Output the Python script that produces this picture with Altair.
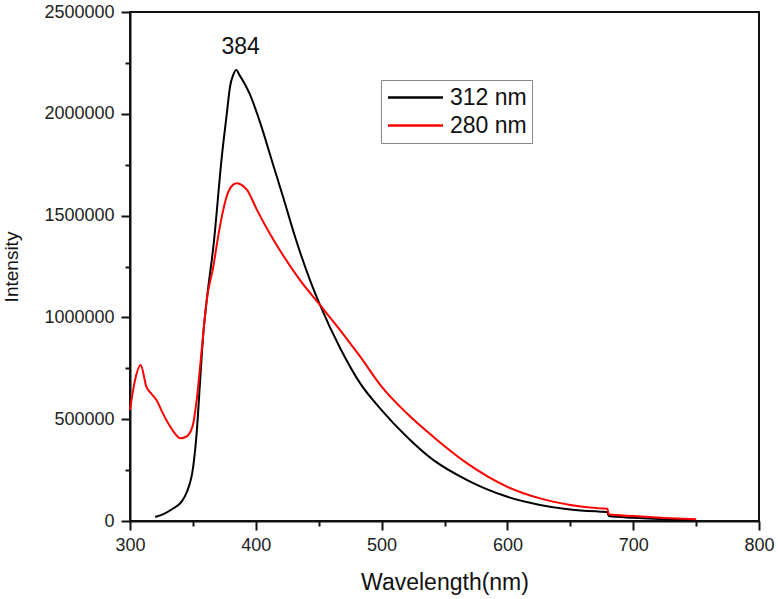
import altair as alt
import pandas as pd

# 312 nm excitation (black)
wl_312 = [320, 327, 334, 341, 345, 350.3, 353, 355.6, 358.3, 361, 366.5, 373, 377, 379.5, 382, 384.5,
          387, 390, 395, 403, 414, 422, 431, 443, 451, 467, 483, 500, 520, 541, 568, 600, 626,
          650, 674, 679.5, 680.5, 700, 725, 750]
int_312 = [20000, 35000, 60000, 95000, 140000, 270000, 431000, 676000, 922000, 1085000, 1360000, 1790000,
           2003000, 2133000, 2190000, 2215000, 2190000, 2160000, 2100000, 1965000, 1745000, 1585000,
           1400000, 1184000, 1061000, 850000, 676000, 545000, 414000, 300000, 201000, 119000, 79000,
           57000, 46000, 44000, 24000, 16000, 9000, 5000]

# 280 nm excitation (red)
wl_280 = [300, 304, 308.5, 313, 317, 321, 326, 332, 337, 340, 343, 346.3, 350.3, 353, 357, 361, 366.2,
          370.7, 374.2, 378, 382, 385, 389, 393, 401, 411, 419, 435, 451, 467, 483, 500, 520, 541, 568,
          600, 626, 650, 674, 679.5, 680.5, 700, 725, 750]
int_280 = [545000, 692000, 766000, 660000, 625000, 594000, 530000, 463000, 420000, 406000, 410000, 422000,
           480000, 594000, 840000, 1085000, 1249000, 1420000, 1530000, 1615000, 1652000, 1659000, 1650000,
           1626000, 1527000, 1413000, 1331000, 1184000, 1061000, 938000, 807000, 660000, 529000, 414000,
           283000, 168000, 111000, 79000, 62000, 60000, 33000, 24000, 15000, 8000]

series_names = ["312 nm", "280 nm"]
series_colors = ["#000000", "#ff0000"]

annot_text = ["384"]
annot_x = [388]
annot_y = [2330000]

x_ticks = list(range(300, 801, 50))
y_ticks = list(range(0, 2500001, 250000))

df = pd.concat([
    pd.DataFrame({"wl": wl_312, "I": int_312, "s": series_names[0], "o": range(len(wl_312))}),
    pd.DataFrame({"wl": wl_280, "I": int_280, "s": series_names[1], "o": range(len(wl_280))}),
])
ann = pd.DataFrame({"t": annot_text, "wl": annot_x, "I": annot_y})

FONT = "Liberation Sans"
AX = dict(domainColor="#111", domainWidth=2, tickColor="#111", tickWidth=2,
          labelFont=FONT, labelFontSize=18, labelColor="#222", labelFlush=False, labelOverlap=False,
          titleFont=FONT, titleFontWeight="normal", titleColor="#111", grid=False)

x_enc = alt.X("wl:Q", scale=alt.Scale(domain=[300, 800], nice=False),
              axis=alt.Axis(title="Wavelength(nm)", values=x_ticks, format="d",
                            labelExpr="datum.value % 100 == 0 ? datum.label : ''",
                            tickSize={"condition": {"test": "datum.value % 100 != 0", "value": 5}, "value": 9},
                            labelPadding=6, titlePadding=17, titleFontSize=23, **AX))
y_enc = alt.Y("I:Q", scale=alt.Scale(domain=[0, 2500000], nice=False),
              axis=alt.Axis(title="Intensity", values=y_ticks, format="d",
                            labelExpr="datum.value % 500000 == 0 ? datum.label : ''",
                            tickSize={"condition": {"test": "datum.value % 500000 != 0", "value": 5}, "value": 9},
                            labelPadding=7, titlePadding=22, titleFontSize=19, **AX))

lines = alt.Chart(df).mark_line(strokeWidth=2, interpolate="monotone").encode(
    x=x_enc, y=y_enc, order="o:Q",
    color=alt.Color("s:N", scale=alt.Scale(domain=series_names, range=series_colors),
                    legend=alt.Legend(title=" ", titleOrient="left", titleFontSize=1, titlePadding=17,
                                      orient="none", legendX=251, legendY=68,
                                      symbolType="M-2.5,0H2.5", symbolSize=484, symbolStrokeWidth=2.5,
                                      labelFontSize=23, labelFont=FONT, labelColor="#111",
                                      strokeColor="#888", padding=5, rowPadding=3,
                                      labelOffset=22, fillColor="white"))
)

text = alt.Chart(ann).mark_text(fontSize=23, font=FONT, color="#111", baseline="middle").encode(
    x="wl:Q", y="I:Q", text="t:N")

chart = alt.layer(lines, text).properties(
    width=629, height=509,
    background="white",
    autosize=alt.AutoSizeParams(type="none"),
    padding={"left": 130, "top": 12, "right": 19, "bottom": 78},
).configure_view(stroke="#111", strokeWidth=2)

chart.save("out.html", embed_options={"renderer": "svg", "actions": False})
